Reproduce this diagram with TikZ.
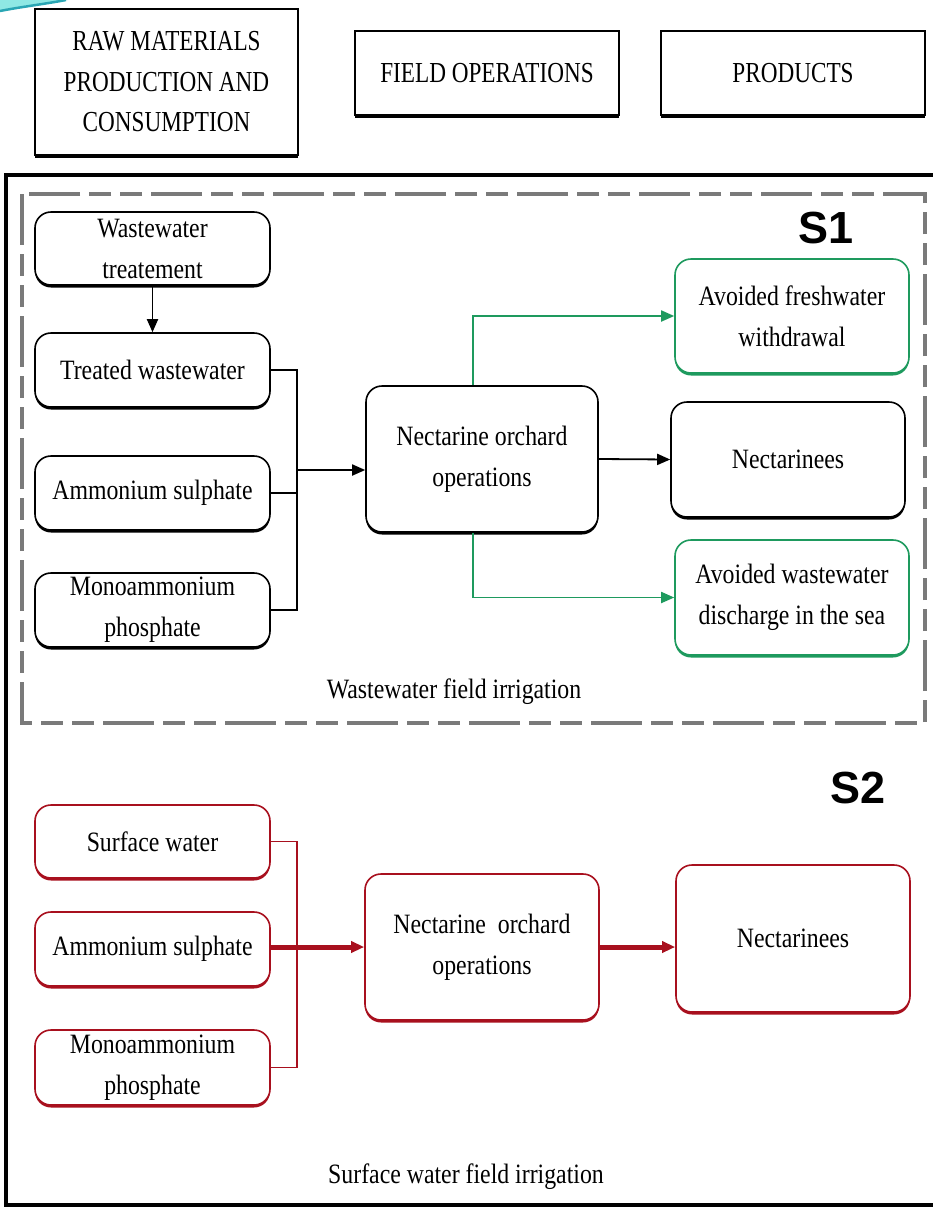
\documentclass[tikz,border=0pt]{standalone}
\usepackage{fontspec}
\setmainfont{Liberation Serif}
\newfontfamily\bxfont{Liberation Serif}[FakeStretch=0.85]
\newfontfamily\hdfont{Liberation Serif}[FakeStretch=0.8]
\newfontfamily\sfont{Liberation Sans}
\usetikzlibrary{arrows.meta,shadows,calc}
\definecolor{grn}{HTML}{1E9A5E}
\definecolor{drd}{HTML}{A8101E}
\definecolor{dgray}{HTML}{7A7A7A}
\definecolor{swlight}{HTML}{8FE8E4}
\definecolor{swdark}{HTML}{2AA6B4}
\begin{document}
\begin{tikzpicture}[x=1pt,y=-1pt,
  rbox/.style={draw=#1, fill=white, rounded corners=16pt, line width=1.6pt,
    align=center, inner sep=2pt, text=black,
    font=\bxfont\fontsize{28}{41}\selectfont,
    drop shadow={shadow xshift=0pt, shadow yshift=-2.5pt, opacity=1, fill=#1}},
  rbox/.default=black,
  hbox/.style={draw, fill=white, line width=1.6pt, align=center,
    font=\hdfont\fontsize{29}{40.5}\selectfont,
    drop shadow={shadow xshift=0pt, shadow yshift=-3pt, opacity=1, fill=black}},
  tip/.style={-{Triangle[length=13pt,width=11pt]}},
  bline/.style={black, line width=1.8pt},
  gline/.style={grn, line width=1.8pt},
  rthin/.style={drd, line width=1.8pt},
  rthick/.style={drd, line width=5pt},
  caption/.style={font=\bxfont\fontsize{28}{34}\selectfont},
  slabel/.style={font=\sfont\bfseries\fontsize{45}{50}\selectfont}
]
\useasboundingbox (0,0) rectangle (933,1208);
\fill[white] (0,0) rectangle (933,1208);

% decorative swoosh
\fill[swlight] (0,0) -- (68,0) .. controls (45,3) and (20,6) .. (0,10) -- cycle;
\draw[swdark, line width=2.5pt] (66,0) .. controls (45,4) and (20,7) .. (0,11);

% header boxes
\node[hbox, minimum width=263pt, minimum height=146pt] (raw) at (166.5,82)
  {RAW MATERIALS\\PRODUCTION AND\\CONSUMPTION};
\node[hbox, minimum width=264pt, minimum height=84pt] (fop) at (487,73) {FIELD OPERATIONS};
\node[hbox, minimum width=264pt, minimum height=84pt] (prod) at (793,73) {PRODUCTS};

% outer frame and dashed S1 frame
\draw[line width=3.5pt] (936,175) -- (6,175) -- (6,1205) -- (936,1205);
\draw[dgray, line width=3.5pt, dash pattern=on 51pt off 9pt on 22pt off 9pt on 22pt off 9pt]
  (22,194) rectangle (925,723);

% ---------- S1 ----------
\node[slabel] (s1) at (826,228) {S1};
\node[rbox, minimum width=235pt, minimum height=73pt] (wt) at (152.5,248.5) {Wastewater\\treatement};
\node[rbox, minimum width=235pt, minimum height=74pt] (tw) at (152.5,370) {Treated wastewater};
\node[rbox, minimum width=235pt, minimum height=74pt] (as1) at (152.5,493) {Ammonium sulphate};
\node[rbox, minimum width=235pt, minimum height=74pt] (mp1) at (152.5,610) {Monoammonium\\phosphate};
\node[rbox, minimum width=232pt, minimum height=146pt] (no1) at (482,459) {Nectarine orchard\\operations};
\node[rbox=grn, minimum width=234pt, minimum height=114pt] (fw) at (792,316) {Avoided freshwater\\withdrawal};
\node[rbox, minimum width=234pt, minimum height=115pt] (nt1) at (788,459.5) {Nectarinees};
\node[rbox=grn, minimum width=234pt, minimum height=115pt] (wd) at (792,597.5) {Avoided wastewater\\discharge in the sea};
\node[caption] (cap1) at (454,692) {Wastewater field irrigation};

\coordinate (b1) at (297,470);
\draw[bline, tip] (wt) -- (tw);
\draw[bline] (tw.east) -- (tw.east -| b1) -- (mp1.east -| b1) -- (mp1.east);
\draw[bline] (as1.east) -- (as1.east -| b1);
\draw[bline, tip] (b1) -- (b1 -| no1.west);
\draw[bline, tip] (no1.east) -- (nt1.west);
\draw[gline, tip] ($(no1.north)+(-9,0)$) |- (fw.west);
\draw[gline, tip] ($(no1.south)+(-9,0)$) |- (wd.west);

% ---------- S2 ----------
\node[slabel] (s2) at (858,788) {S2};
\node[rbox=drd, minimum width=235pt, minimum height=73pt] (sw) at (152.5,841.5) {Surface water};
\node[rbox=drd, minimum width=235pt, minimum height=74pt] (as2) at (152.5,949) {Ammonium sulphate};
\node[rbox=drd, minimum width=235pt, minimum height=75pt] (mp2) at (152.5,1067.5) {Monoammonium\\phosphate};
\node[rbox=drd, minimum width=234pt, minimum height=146pt] (no2) at (482,947) {Nectarine\ \ orchard\\operations};
\node[rbox=drd, minimum width=234pt, minimum height=147pt] (nt2) at (793,938.5) {Nectarinees};
\node[caption] (cap2) at (466,1177) {Surface water field irrigation};

\coordinate (b2) at (297,947);
\draw[rthin] (sw.east) -- (sw.east -| b2) -- (mp2.east -| b2) -- (mp2.east);
\draw[rthick, tip] (as2.east |- no2.west) -- (no2.west);
\draw[rthick, tip] (no2.east) -- (no2.east -| nt2.west);
\end{tikzpicture}
\end{document}
